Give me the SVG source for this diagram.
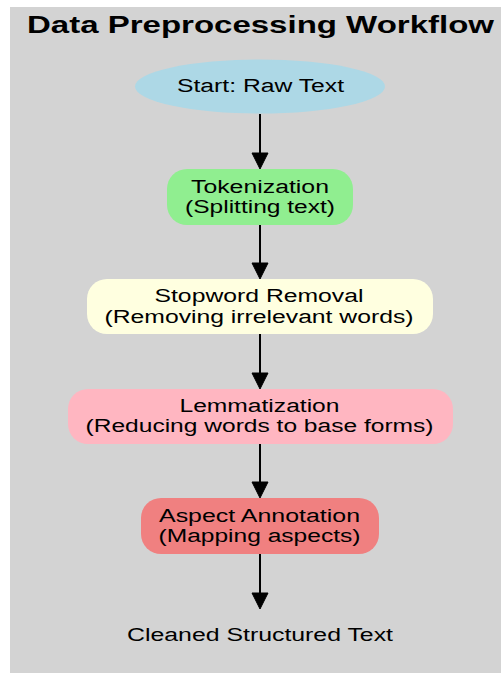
<svg xmlns="http://www.w3.org/2000/svg" width="501" height="673" viewBox="0 0 501 673">
<style>
text{font-family:"Liberation Sans",Arial,sans-serif;font-size:18px;fill:#000;text-anchor:middle}
.title{font-size:23px;font-weight:bold}
.edge{stroke:#000;stroke-width:2;fill:none}
.ah{fill:#000;stroke:#000;stroke-width:1}
</style>
<rect x="0" y="0" width="501" height="673" fill="#ffffff"/>
<rect id="cluster" x="10" y="7" width="491" height="666" fill="#d3d3d3"/>
<text class="title" x="260.5" y="33" textLength="467" lengthAdjust="spacingAndGlyphs">Data Preprocessing Workflow</text>
<g id="connectors">
<line class="edge" x1="260" y1="114" x2="260" y2="154"/>
<polygon class="ah" points="252,153 268,153 260,169"/>
<line class="edge" x1="260" y1="225" x2="260" y2="264"/>
<polygon class="ah" points="252,263 268,263 260,279"/>
<line class="edge" x1="260" y1="334" x2="260" y2="374"/>
<polygon class="ah" points="252,373 268,373 260,389"/>
<line class="edge" x1="260" y1="444" x2="260" y2="483"/>
<polygon class="ah" points="252,482 268,482 260,498"/>
<line class="edge" x1="260" y1="554" x2="260" y2="594"/>
<polygon class="ah" points="252,593 268,593 260,609"/>
</g>
<g id="start">
<ellipse cx="260" cy="86.5" rx="125" ry="27" fill="#add8e6"/>
<text x="260.5" y="92" textLength="167" lengthAdjust="spacingAndGlyphs">Start: Raw Text</text>
</g>
<g id="tokenization">
<rect x="167" y="169" width="186" height="56" rx="20" fill="#90ee90"/>
<text x="260" y="192.5" textLength="138" lengthAdjust="spacingAndGlyphs">Tokenization</text>
<text x="260" y="212.5" textLength="150" lengthAdjust="spacingAndGlyphs">(Splitting text)</text>
</g>
<g id="stopword">
<rect x="87" y="279" width="346" height="55" rx="20" fill="#ffffe0"/>
<text x="259" y="302" textLength="209" lengthAdjust="spacingAndGlyphs">Stopword Removal</text>
<text x="259" y="322.5" textLength="309" lengthAdjust="spacingAndGlyphs">(Removing irrelevant words)</text>
</g>
<g id="lemmatization">
<rect x="68" y="389" width="385" height="55" rx="20" fill="#ffb6c1"/>
<text x="259.5" y="412" textLength="160" lengthAdjust="spacingAndGlyphs">Lemmatization</text>
<text x="259.5" y="432" textLength="348" lengthAdjust="spacingAndGlyphs">(Reducing words to base forms)</text>
</g>
<g id="aspect">
<rect x="141" y="498" width="238" height="56" rx="20" fill="#f08080"/>
<text x="259.5" y="521.5" textLength="201" lengthAdjust="spacingAndGlyphs">Aspect Annotation</text>
<text x="259.5" y="541.5" textLength="202" lengthAdjust="spacingAndGlyphs">(Mapping aspects)</text>
</g>
<g id="cleaned">
<text x="260" y="641" textLength="266" lengthAdjust="spacingAndGlyphs">Cleaned Structured Text</text>
</g>
</svg>
